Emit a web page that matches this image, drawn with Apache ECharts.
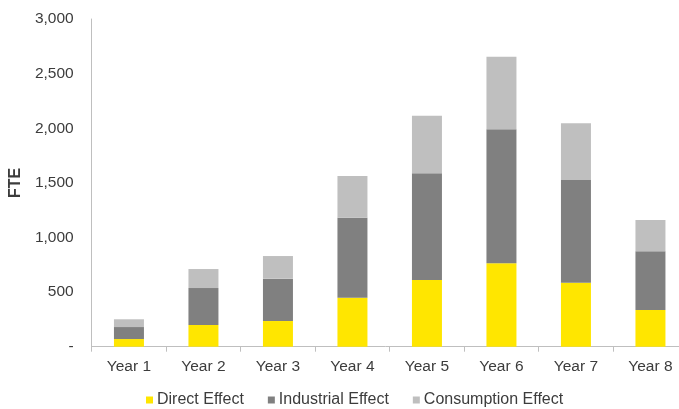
<!DOCTYPE html>
<html>
<head>
<meta charset="utf-8">
<script src="https://cdn.jsdelivr.net/npm/echarts@6/dist/echarts.min.js"></script>
<style>
html,body{margin:0;padding:0;background:#fff;}
#chart{width:679px;height:409px;}
</style>
</head>
<body>
<div id="chart"></div>
<script>
const categories = ['Year 1','Year 2','Year 3','Year 4','Year 5','Year 6','Year 7','Year 8'];
const directEffect = [70, 199, 235, 449, 611, 763, 586, 336];
const industrialEffect = [110, 338, 388, 732, 976, 1227, 940, 537];
const consumptionEffect = [71, 174, 207, 382, 528, 665, 519, 287];
const seriesNames = ['Direct Effect','Industrial Effect','Consumption Effect'];
const yTicks = [0, 500, 1000, 1500, 2000, 2500, 3000];

const textColor = '#3c3c3c';
const font = 'Liberation Sans, Arial, sans-serif';
const chart = echarts.init(document.getElementById('chart'), null, {renderer:'canvas'});

function fmt(v){
  if (v === 0) return '-';
  return String(v).replace(/\B(?=(\d{3})+(?!\d))/g, ',');
}

chart.setOption({
  animation:false,
  backgroundColor:'#ffffff',
  grid:{left:91.7, top:19, width:596, height:327.7, containLabel:false, outerBoundsMode:'none'},
  legend:{
    left:141, top:387,
    itemWidth:7, itemHeight:7, itemGap:24,
    icon:'rect',
    textStyle:{fontFamily:font, fontSize:16, color:textColor, padding:[0,0,0,-1]},
    data:seriesNames
  },
  xAxis:{
    type:'category',
    data:categories,
    axisLine:{lineStyle:{color:'#bfbfbf', width:1}},
    axisTick:{show:true, length:5, alignWithLabel:false, lineStyle:{color:'#bfbfbf'}},
    axisLabel:{fontFamily:font, fontSize:15.5, color:textColor, margin:12},
    splitLine:{show:false}
  },
  yAxis:{
    type:'value',
    min:yTicks[0], max:yTicks[yTicks.length-1], interval:yTicks[1]-yTicks[0],
    name:'FTE',
    nameLocation:'middle',
    nameGap:63,
    nameTextStyle:{fontFamily:font, fontSize:16, fontWeight:'bold', color:textColor},
    axisLine:{show:true, lineStyle:{color:'#bfbfbf', width:1}},
    axisTick:{show:false},
    axisLabel:{fontFamily:font, fontSize:15.5, color:textColor, margin:18, formatter:fmt},
    splitLine:{show:false}
  },
  series:[
    {name:seriesNames[0], type:'bar', stack:'total', data:directEffect, barWidth:30, itemStyle:{color:'#ffe600'}},
    {name:seriesNames[1], type:'bar', stack:'total', data:industrialEffect, barWidth:30, itemStyle:{color:'#808080'}},
    {name:seriesNames[2], type:'bar', stack:'total', data:consumptionEffect, barWidth:30, itemStyle:{color:'#bfbfbf'}}
  ]
});
</script>
</body>
</html>
